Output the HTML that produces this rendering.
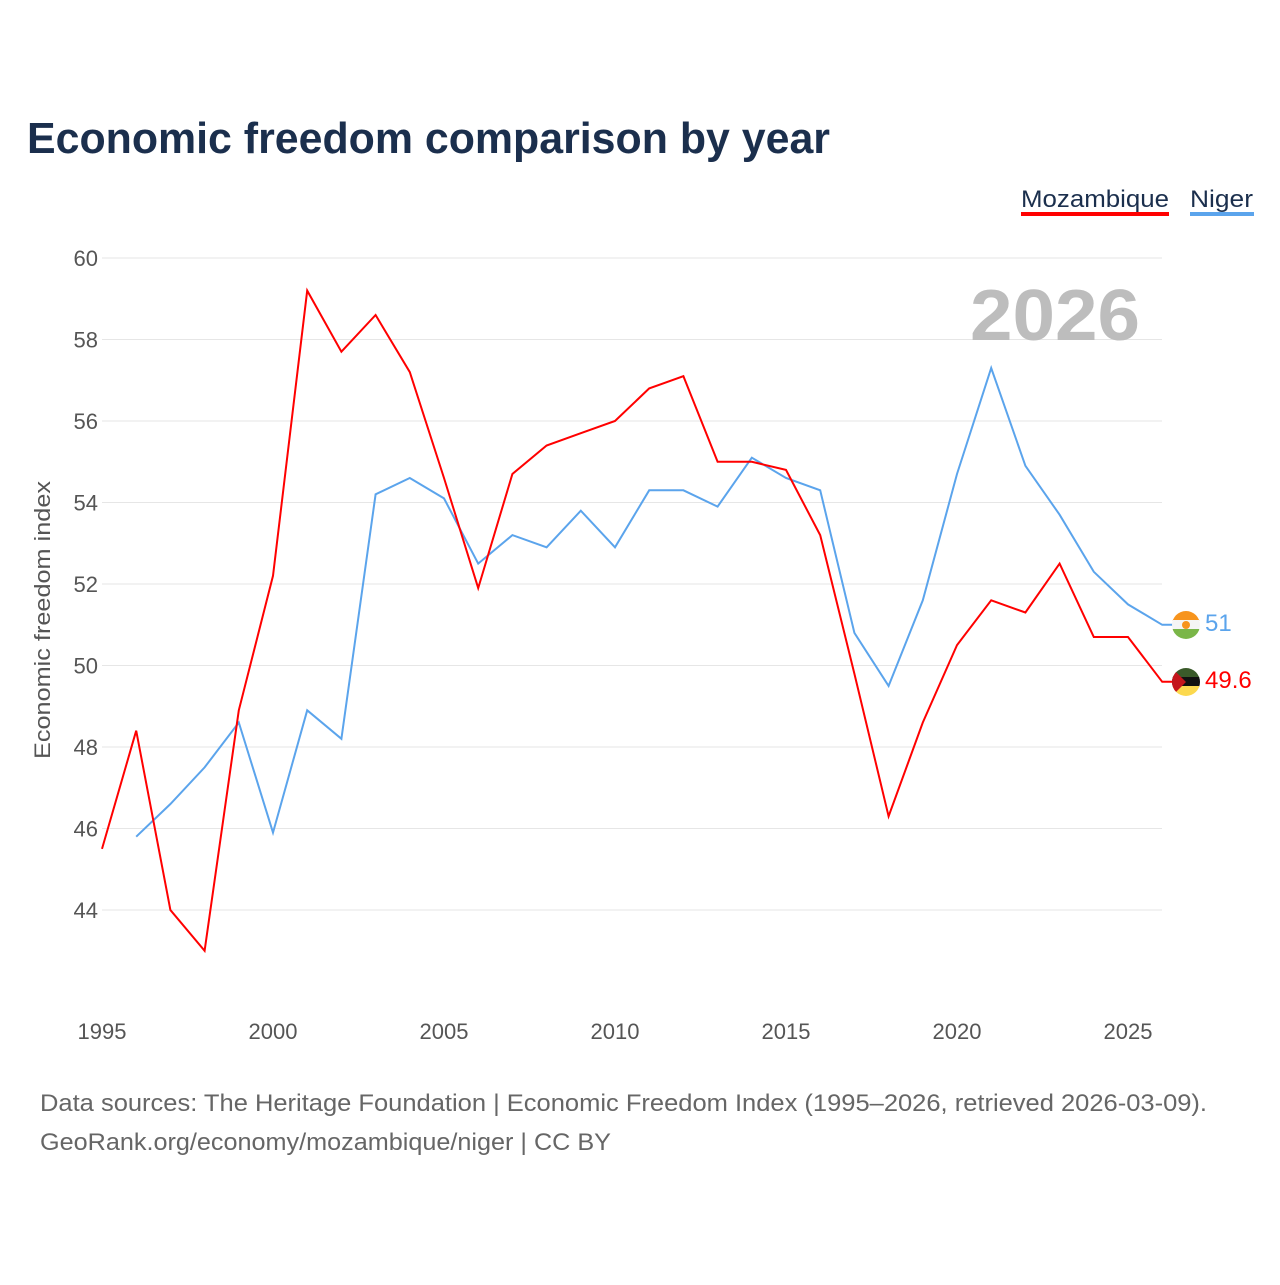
<!DOCTYPE html>
<html><head><meta charset="utf-8"><style>
body{margin:0;background:#fff;font-family:"Liberation Sans",sans-serif;}
</style></head><body>
<svg width="1280" height="1280" viewBox="0 0 1280 1280" xmlns="http://www.w3.org/2000/svg">
<text x="27" y="153" font-size="44" font-weight="bold" fill="#1b2f4d" textLength="803" lengthAdjust="spacingAndGlyphs">Economic freedom comparison by year</text>
<g>
<text x="1021" y="207" font-size="24" fill="#1b2f4d" textLength="148" lengthAdjust="spacingAndGlyphs">Mozambique</text>
<rect x="1021" y="212" width="148" height="4" fill="#ff0000"/>
<text x="1190" y="207" font-size="24" fill="#1b2f4d" textLength="63" lengthAdjust="spacingAndGlyphs">Niger</text>
<rect x="1190" y="212" width="64" height="4" fill="#5ba4ec"/>
</g>
<g id="grid"></g>
<text x="1140" y="340" font-size="72" font-weight="bold" fill="#bdbdbd" text-anchor="end" textLength="170" lengthAdjust="spacingAndGlyphs">2026</text>
<text transform="translate(50,620) rotate(-90)" font-size="22" fill="#555" text-anchor="middle" textLength="278" lengthAdjust="spacingAndGlyphs">Economic freedom index</text>
<g id="series"></g>
<g>
<clipPath id="cn"><circle cx="1186" cy="625" r="14"/></clipPath>
<g clip-path="url(#cn)"><rect x="1172" y="611" width="28" height="10" fill="#f7941d"/><rect x="1172" y="620" width="28" height="10" fill="#f5f5f5"/><rect x="1172" y="629" width="28" height="10" fill="#7ab648"/><circle cx="1186" cy="625" r="4" fill="#f7941d"/></g></g>
<g>
<clipPath id="cm"><circle cx="1186" cy="682" r="14"/></clipPath>
<g clip-path="url(#cm)"><rect x="1172" y="668" width="28" height="10" fill="#3a5a2a"/><rect x="1172" y="677" width="28" height="10" fill="#111"/><rect x="1172" y="686" width="28" height="10" fill="#fcd94e"/><polygon points="1172,668 1186,682 1172,696" fill="#c4161c"/></g></g>
<text x="1205" y="631" font-size="24" fill="#5ba4ec">51</text>
<text x="1205" y="688" font-size="24" fill="#ff0000">49.6</text>
<text x="40" y="1111" font-size="24" fill="#666" textLength="1167" lengthAdjust="spacingAndGlyphs">Data sources: The Heritage Foundation | Economic Freedom Index (1995–2026, retrieved 2026-03-09).</text>
<text x="40" y="1150" font-size="24" fill="#666" textLength="571" lengthAdjust="spacingAndGlyphs">GeoRank.org/economy/mozambique/niger | CC BY</text>
</svg>
<script>
const years=[1995,1996,1997,1998,1999,2000,2001,2002,2003,2004,2005,2006,2007,2008,2009,2010,2011,2012,2013,2014,2015,2016,2017,2018,2019,2020,2021,2022,2023,2024,2025,2026];
const mozambique=[45.5,48.4,44.0,43.0,48.9,52.2,59.2,57.7,58.6,57.2,54.6,51.9,54.7,55.4,55.7,56.0,56.8,57.1,55.0,55.0,54.8,53.2,49.8,46.3,48.6,50.5,51.6,51.3,52.5,50.7,50.7,49.6];
const niger=[null,45.8,46.6,47.5,48.6,45.9,48.9,48.2,54.2,54.6,54.1,52.5,53.2,52.9,53.8,52.9,54.3,54.3,53.9,55.1,54.6,54.3,50.8,49.5,51.6,54.7,57.3,54.9,53.7,52.3,51.5,51.0];
const yTicks=[44,46,48,50,52,54,56,58,60];
const xTicks=[1995,2000,2005,2010,2015,2020,2025];
const NS="http://www.w3.org/2000/svg";
const xs=y=>102+(y-1995)*(1128-102)/30;
const ys=v=>258+(60-v)*(910-258)/16;
const grid=document.getElementById('grid');
yTicks.forEach(t=>{
 const l=document.createElementNS(NS,'line');
 l.setAttribute('x1',102);l.setAttribute('x2',1162);l.setAttribute('y1',ys(t));l.setAttribute('y2',ys(t));
 l.setAttribute('stroke','#e6e6e6');l.setAttribute('stroke-width','1');
 
 
 grid.appendChild(l);
 const tx=document.createElementNS(NS,'text');
 tx.setAttribute('x',98);tx.setAttribute('y',ys(t)+8);tx.setAttribute('text-anchor','end');
 tx.setAttribute('font-size','22');tx.setAttribute('fill','#555');tx.textContent=t;
 
 
 grid.appendChild(tx);
});
xTicks.forEach(t=>{
 const tx=document.createElementNS(NS,'text');
 tx.setAttribute('x',xs(t));tx.setAttribute('y',1039);tx.setAttribute('text-anchor','middle');
 tx.setAttribute('font-size','22');tx.setAttribute('fill','#555');tx.textContent=t;
 
 
 grid.appendChild(tx);
});
const series=document.getElementById('series');
function draw(vals,color,name){
 let d='';
 vals.forEach((v,i)=>{if(v==null)return;d+=(d?'L':'M')+xs(years[i]).toFixed(1)+','+ys(v).toFixed(1);});
 const last=vals[vals.length-1];
 d+='L1186,'+ys(last).toFixed(1);
 const p=document.createElementNS(NS,'path');
 p.setAttribute('d',d);p.setAttribute('fill','none');p.setAttribute('stroke',color);p.setAttribute('stroke-width','2');
 
 
 series.appendChild(p);
}
draw(niger,'#5ba4ec','niger-line');
draw(mozambique,'#ff0000','mozambique-line');
</script>
</body></html>
